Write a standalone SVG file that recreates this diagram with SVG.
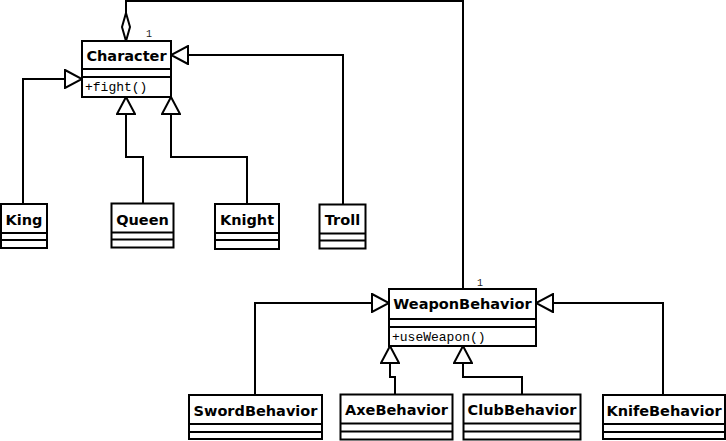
<svg xmlns="http://www.w3.org/2000/svg" width="726" height="441" viewBox="0 0 726 441">
<style>
.box{fill:#fff;stroke:#000;stroke-width:2}
.sep{stroke:#000;stroke-width:2}
.name{font-family:"DejaVu Sans",sans-serif;font-weight:bold;font-size:14.5px;text-anchor:middle;fill:#000}
.op{font-family:"Liberation Mono",monospace;font-size:13px;fill:#000}
.mult{font-family:"Liberation Mono",monospace;font-size:10px;fill:#222}
.conn{fill:none;stroke:#000;stroke-width:2}
</style>
<defs>
<marker id="gen" viewBox="0 0 20 20" refX="18" refY="10" markerWidth="20" markerHeight="20" markerUnits="userSpaceOnUse" orient="auto">
<path d="M1,1 L18,10 L1,19 Z" fill="#fff" stroke="#000" stroke-width="2"/>
</marker>
</defs>
<g id="connectors">
<path class="conn" d="M23,204 V79 H82" marker-end="url(#gen)"/>
<path class="conn" d="M143,204 V157 H126 V97" marker-end="url(#gen)"/>
<path class="conn" d="M247,204 V157 H171 V97" marker-end="url(#gen)"/>
<path class="conn" d="M343,204 V55 H171" marker-end="url(#gen)"/>
<path class="conn" d="M126,13 V1 H463 V289"/>
<polygon points="126,13 130,27 126,41 122,27" fill="#fff" stroke="#000" stroke-width="2"/>
<text class="mult" x="146" y="37">1</text>
<text class="mult" x="477" y="286">1</text>
<path class="conn" d="M255,395 V303 H389" marker-end="url(#gen)"/>
<path class="conn" d="M395,394 V377 H390 V346" marker-end="url(#gen)"/>
<path class="conn" d="M522,394 V377 H463 V346" marker-end="url(#gen)"/>
<path class="conn" d="M663,395 V303 H536" marker-end="url(#gen)"/>
</g>
<g id="Character">
<rect class="box" x="82" y="41" width="89" height="56"/>
<line class="sep" x1="82" y1="69" x2="171" y2="69"/>
<line class="sep" x1="82" y1="77" x2="171" y2="77"/>
<text class="name" x="126.5" y="61">Character</text>
<text class="op" x="85" y="91">+fight()</text>
</g>
<g id="King">
<rect class="box" x="1" y="204" width="46" height="44"/>
<line class="sep" x1="1" y1="233" x2="47" y2="233"/>
<line class="sep" x1="1" y1="240" x2="47" y2="240"/>
<text class="name" x="24" y="225">King</text>
</g>
<g id="Queen">
<rect class="box" x="111.5" y="203.5" width="62" height="44"/>
<line class="sep" x1="111.5" y1="232.5" x2="173.5" y2="232.5"/>
<line class="sep" x1="111.5" y1="239.5" x2="173.5" y2="239.5"/>
<text class="name" x="142.5" y="225">Queen</text>
</g>
<g id="Knight">
<rect class="box" x="215" y="204" width="64" height="45"/>
<line class="sep" x1="215" y1="233" x2="279" y2="233"/>
<line class="sep" x1="215" y1="240" x2="279" y2="240"/>
<text class="name" x="247" y="225">Knight</text>
</g>
<g id="Troll">
<rect class="box" x="319.5" y="204.5" width="46" height="44"/>
<line class="sep" x1="319.5" y1="233.5" x2="365.5" y2="233.5"/>
<line class="sep" x1="319.5" y1="240.5" x2="365.5" y2="240.5"/>
<text class="name" x="342.5" y="225">Troll</text>
</g>
<g id="WeaponBehavior">
<rect class="box" x="389" y="289" width="147" height="57"/>
<line class="sep" x1="389" y1="319" x2="536" y2="319"/>
<line class="sep" x1="389" y1="327" x2="536" y2="327"/>
<text class="name" x="462.5" y="309">WeaponBehavior</text>
<text class="op" x="392" y="341">+useWeapon()</text>
</g>
<g id="SwordBehavior">
<rect class="box" x="189" y="395" width="133" height="44"/>
<line class="sep" x1="189" y1="424" x2="322" y2="424"/>
<line class="sep" x1="189" y1="432" x2="322" y2="432"/>
<text class="name" x="255.5" y="416">SwordBehavior</text>
</g>
<g id="AxeBehavior">
<rect class="box" x="340.5" y="394.5" width="112" height="45"/>
<line class="sep" x1="340.5" y1="423.5" x2="452.5" y2="423.5"/>
<line class="sep" x1="340.5" y1="431.5" x2="452.5" y2="431.5"/>
<text class="name" x="396.5" y="415">AxeBehavior</text>
</g>
<g id="ClubBehavior">
<rect class="box" x="463.5" y="394.5" width="117" height="45"/>
<line class="sep" x1="463.5" y1="423.5" x2="580.5" y2="423.5"/>
<line class="sep" x1="463.5" y1="431.5" x2="580.5" y2="431.5"/>
<text class="name" x="522" y="415">ClubBehavior</text>
</g>
<g id="KnifeBehavior">
<rect class="box" x="603" y="395" width="122" height="44"/>
<line class="sep" x1="603" y1="424" x2="725" y2="424"/>
<line class="sep" x1="603" y1="432" x2="725" y2="432"/>
<text class="name" x="664" y="416">KnifeBehavior</text>
</g>
</svg>
